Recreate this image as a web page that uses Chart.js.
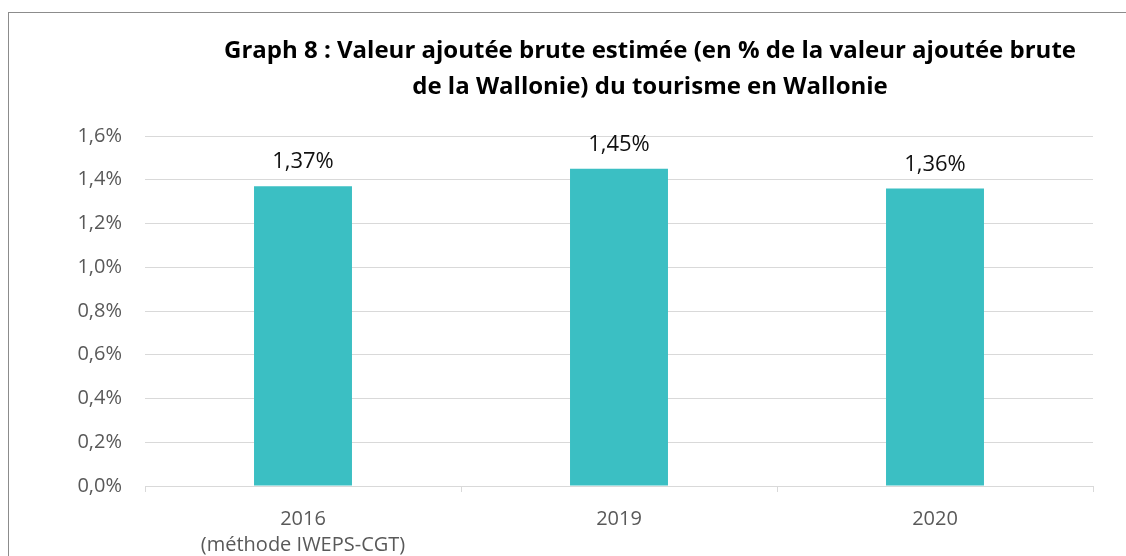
<!DOCTYPE html>
<html>
<head>
<meta charset="utf-8">
<script src="https://cdn.jsdelivr.net/npm/chart.js@4.4.1/dist/chart.umd.min.js"></script>
<style>
  html, body { margin: 0; padding: 0; background: #fff; }
  #wrap { width: 1126px; height: 556px; position: relative; }
</style>
</head>
<body>
<div id="wrap"><canvas id="myChart" width="1126" height="556"></canvas></div>
<script>
// data
var categories = [['2016', '(méthode IWEPS-CGT)'], '2019', '2020'];
var values = [1.37, 1.45, 1.36];
var titleLines = [
    'Graph 8 : Valeur ajoutée brute estimée (en % de la valeur ajoutée brute',
    'de la Wallonie) du tourisme en Wallonie'
];

function pct(v, digits) {
    return v.toFixed(digits).replace('.', ',') + '%';
}

// frame + title, drawn by hand so the title sits where the original one is
var decor = {
    id: 'decor',
    beforeDraw: function(chart) {
        var c = chart.ctx;
        c.save();
        c.strokeStyle = '#8c8c8c';
        c.lineWidth = 1;
        c.strokeRect(8.5, 12.5, 1200, 700);
        c.restore();
    },
    afterDraw: function(chart) {
        var c = chart.ctx;
        c.save();
        // shrink the font until the first line is as wide as in the original
        var size = 24;
        c.font = 'bold ' + size + 'px "Open Sans"';
        while (size > 12 && c.measureText(titleLines[0]).width > 870) {
            size -= 0.5;
            c.font = 'bold ' + size + 'px "Open Sans"';
        }
        c.fillStyle = '#000';
        c.textAlign = 'center';
        c.textBaseline = 'alphabetic';
        c.fillText(titleLines[0], 650, 58);
        c.fillText(titleLines[1], 650, 94);
        c.restore();
    }
};

// value labels above the bars
var barLabels = {
    id: 'barLabels',
    afterDatasetsDraw: function(chart) {
        var c = chart.ctx;
        var meta = chart.getDatasetMeta(0);
        c.save();
        c.fillStyle = '#111';
        c.font = '22px "Open Sans"';
        c.textAlign = 'center';
        c.textBaseline = 'alphabetic';
        meta.data.forEach(function(bar, i) {
            c.fillText(pct(values[i], 2), bar.x, bar.y - 18);
        });
        c.restore();
    }
};

var ctx = document.getElementById('myChart');
var chart = new Chart(ctx, {
    type: 'bar',
    data: {
        labels: categories,
        datasets: [{
            data: values,
            backgroundColor: '#3bbfc3',
            borderWidth: 0,
            categoryPercentage: 1,
            barPercentage: 0.31
        }]
    },
    options: {
        responsive: false,
        animation: false,
        layout: { padding: { top: 136, right: 33, bottom: 0, left: 0 } },
        plugins: {
            legend: { display: false },
            tooltip: { enabled: false },
            title: { display: false }
        },
        scales: {
            x: {
                offset: true,
                grid: {
                    offset: true,
                    drawOnChartArea: false,
                    drawTicks: true,
                    tickLength: 6,
                    color: '#d9d9d9'
                },
                border: { display: true, color: '#d9d9d9', width: 1 },
                ticks: {
                    color: '#595959',
                    font: { family: 'Open Sans', size: 20, lineHeight: 1.3 },
                    padding: 14,
                    maxRotation: 0
                },
                afterFit: function(scale) { scale.height = 70; }
            },
            y: {
                min: 0,
                max: 1.6,
                grid: { color: '#d9d9d9', drawTicks: false },
                border: { display: false },
                ticks: {
                    stepSize: 0.2,
                    color: '#595959',
                    font: { family: 'Open Sans', size: 20 },
                    padding: 23,
                    callback: function(v) { return pct(v, 1); }
                },
                afterFit: function(scale) { scale.width = 145; }
            }
        }
    },
    plugins: [decor, barLabels]
});
</script>
</body>
</html>
